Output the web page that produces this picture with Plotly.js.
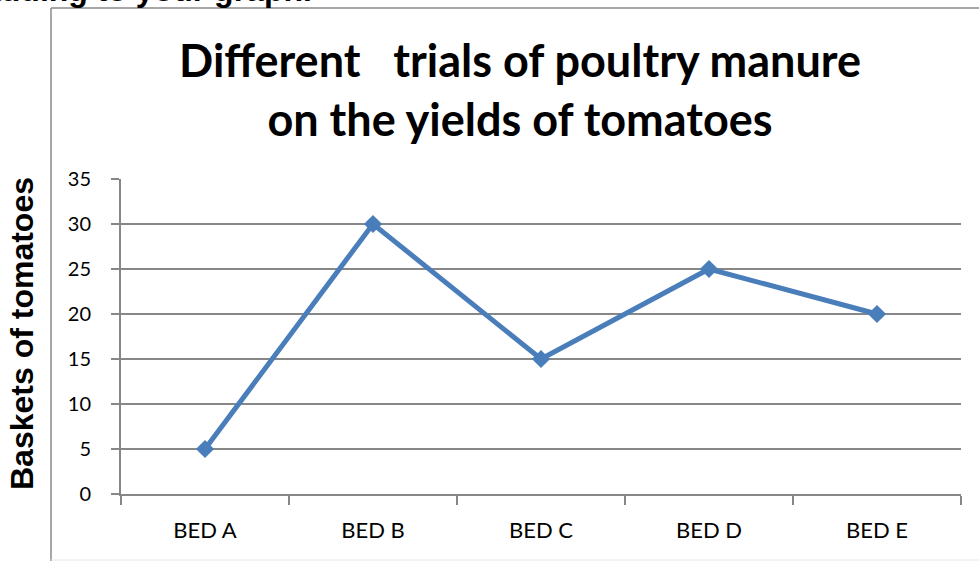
<!DOCTYPE html>
<html>
<head>
<meta charset="utf-8">
<script src="https://cdn.plot.ly/plotly-3.0.1.min.js"></script>
<style>html,body{margin:0;padding:0;background:#fff;}#chart{width:979px;height:561px;}</style>
</head>
<body>
<div id="chart"></div>
<script>
const categories = ["BED A", "BED B", "BED C", "BED D", "BED E"];
const baskets = [5, 30, 15, 25, 20];
const yTickValues = [0, 5, 10, 15, 20, 25, 30, 35];

const W = 979, H = 561;
const L = 121, R = 961, T = 179, B = 494;
const px = x => (x - L) / (R - L);
const py = y => (B - y) / (B - T);

const lineColor = "#4a7ebb";
const grid = "#878787";
const labelFont = "Lato, 'Open Sans', sans-serif";
const arialFont = "'Liberation Sans', Arial, sans-serif";

const trace = {
  x: categories,
  y: baskets,
  type: "scatter",
  mode: "lines+markers",
  line: {color: lineColor, width: 5},
  marker: {symbol: "diamond", size: 14, color: lineColor},
  hoverinfo: "skip"
};

const layout = {
  width: W, height: H,
  margin: {l: L, r: W - R, t: T, b: H - B, pad: 0},
  paper_bgcolor: "#fff", plot_bgcolor: "#fff",
  showlegend: false,
  title: {
    text: "Different   trials of poultry manure<br>on the yields of tomatoes",
    font: {family: labelFont, size: 45, color: "#000", weight: "bold"},
    xref: "container", x: 520 / W, xanchor: "center",
    yref: "container", y: 1 - 77 / H, yanchor: "middle"
  },
  xaxis: {
    type: "category",
    range: [-0.5, 4.5],
    showgrid: false,
    showline: true, linecolor: grid, linewidth: 2,
    ticks: "outside", tickson: "boundaries", ticklen: 9, tickcolor: grid, tickwidth: 2,
    ticklabelstandoff: 16,
    tickfont: {family: labelFont, size: 22, color: "#000"},
    fixedrange: true
  },
  yaxis: {
    range: [0, 35],
    tickvals: yTickValues,
    showgrid: true, gridcolor: grid, gridwidth: 1.5,
    zeroline: false,
    showline: true, linecolor: grid, linewidth: 2,
    ticks: "outside", ticklen: 8, tickcolor: grid, tickwidth: 1.5,
    ticklabelstandoff: 16,
    tickfont: {family: labelFont, size: 20, color: "#000"},
    fixedrange: true
  },
  shapes: [
    {type: "line", xref: "paper", yref: "paper", x0: px(51), x1: px(51), y0: py(8), y1: py(562),
     line: {color: "#8a8a8a", width: 1.5}},
    {type: "line", xref: "paper", yref: "paper", x0: px(51), x1: px(985), y0: py(8), y1: py(8),
     line: {color: "#8a8a8a", width: 1.5}},
    {type: "line", xref: "paper", yref: "paper", x0: px(51), x1: px(985), y0: py(560), y1: py(560),
     line: {color: "#e6e6e6", width: 1}}
  ],
  annotations: [
    {text: "Baskets of tomatoes", textangle: -90, xref: "paper", yref: "paper",
     x: px(22), y: py(334), xanchor: "center", yanchor: "middle", showarrow: false,
     font: {family: arialFont, size: 32, color: "#000", weight: "bold"}},
    {text: "adding to your graph.", xref: "paper", yref: "paper",
     x: px(314), y: py(-10), xanchor: "right", yanchor: "middle", showarrow: false,
     font: {family: arialFont, size: 32, color: "#000", weight: "bold"}}
  ]
};

Plotly.newPlot("chart", [trace], layout, {displayModeBar: false, staticPlot: true});
</script>
</body>
</html>
